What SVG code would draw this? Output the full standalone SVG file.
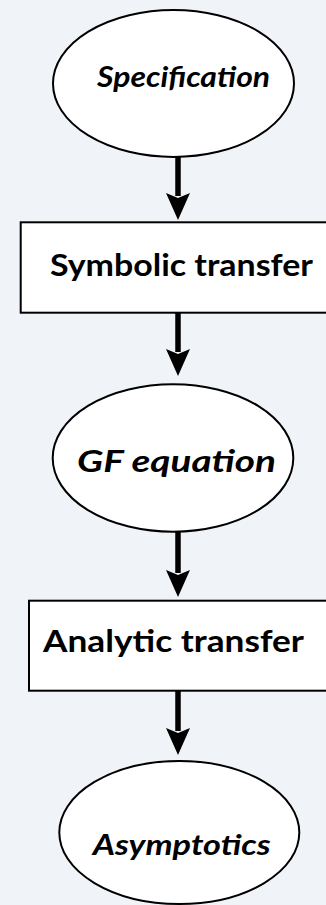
<svg xmlns="http://www.w3.org/2000/svg" width="326" height="905" viewBox="0 0 326 905">
<defs>
<style>
.bg{fill:#f0f4f8}
.node{fill:#ffffff;stroke:#000000;stroke-width:2}
.lbl{font-family:Lato,"Open Sans","Liberation Sans",sans-serif;font-weight:bold;fill:#000000;text-anchor:middle}
.big{font-size:31px}
.sm{font-size:29px}
.it{font-style:italic}
.edge{stroke:#000000;stroke-width:5.5;fill:none}
.head{fill:#000000}
</style>
</defs>
<rect class="bg" x="0" y="0" width="326" height="905"/>
<g id="connectors">
<line class="edge" x1="178" y1="157" x2="178" y2="196"/>
<polygon class="head" points="166,193 178,198 190,193 178,220"/>
<line class="edge" x1="178" y1="313" x2="178" y2="352"/>
<polygon class="head" points="166,349 178,354 190,349 178,376"/>
<line class="edge" x1="178" y1="532" x2="178" y2="573"/>
<polygon class="head" points="166,570 178,575 190,570 178,597"/>
<line class="edge" x1="178" y1="691" x2="178" y2="731"/>
<polygon class="head" points="166,728 178,733 190,728 178,755"/>
</g>
<g id="specification">
<ellipse class="node" cx="173.5" cy="83.5" rx="120.5" ry="73.5"/>
<text class="lbl it sm" x="183.6" y="87.3" textLength="173" lengthAdjust="spacingAndGlyphs">Specification</text>
</g>
<g id="symbolic-transfer">
<rect class="node" x="20.7" y="222.3" width="320" height="90.4"/>
<text class="lbl big" x="181.5" y="276" textLength="263" lengthAdjust="spacingAndGlyphs">Symbolic transfer</text>
</g>
<g id="gf-equation">
<ellipse class="node" cx="173" cy="458" rx="120.3" ry="73.7"/>
<text class="lbl it big" x="176.5" y="471.7" textLength="199" lengthAdjust="spacingAndGlyphs">GF equation</text>
</g>
<g id="analytic-transfer">
<rect class="node" x="29" y="600.7" width="320" height="90"/>
<text class="lbl big" x="173.5" y="651.7" textLength="261" lengthAdjust="spacingAndGlyphs">Analytic transfer</text>
</g>
<g id="asymptotics">
<ellipse class="node" cx="179.3" cy="832.5" rx="120" ry="71.5"/>
<text class="lbl it sm" x="181.7" y="855" textLength="178" lengthAdjust="spacingAndGlyphs">Asymptotics</text>
</g>
</svg>
